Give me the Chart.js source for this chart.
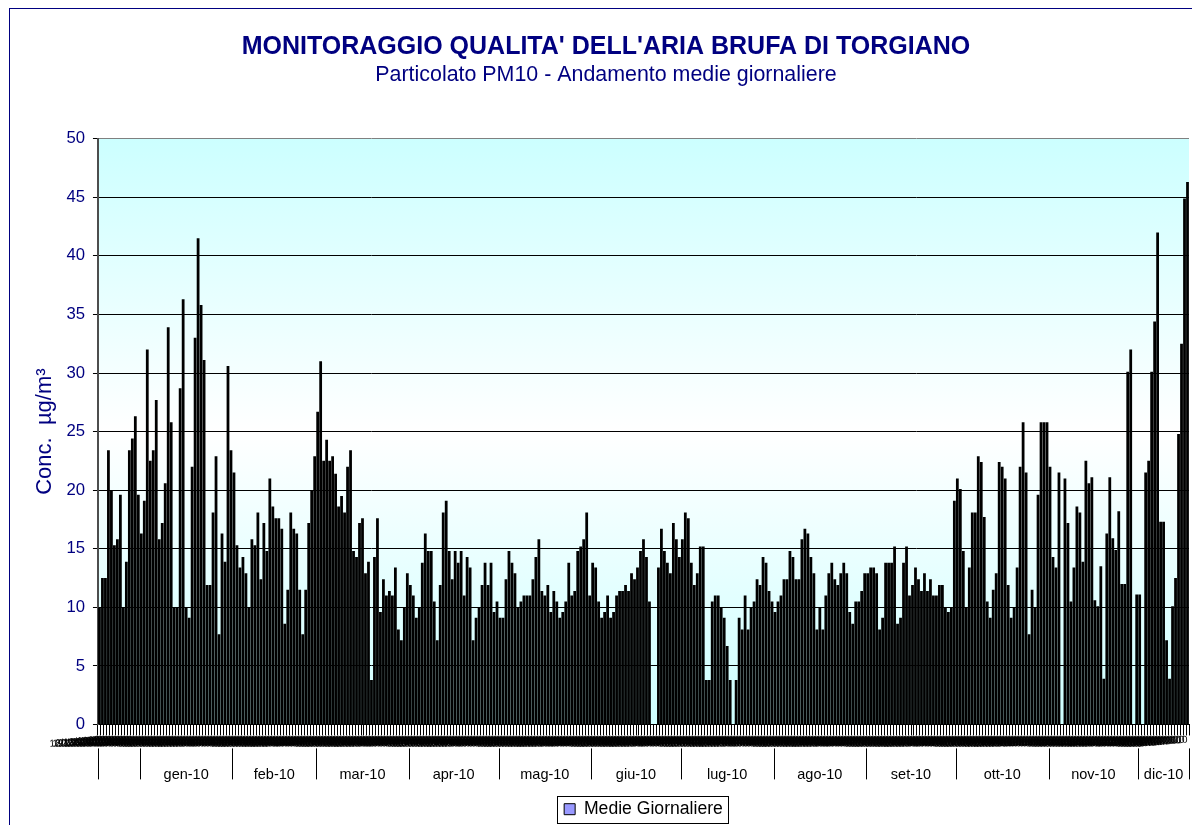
<!DOCTYPE html>
<html>
<head>
<meta charset="utf-8">
<title>PM10 Brufa di Torgiano</title>
<script src="https://cdn.jsdelivr.net/npm/chart.js@4.4.1/dist/chart.umd.min.js"></script>
<style>
    html, body { margin: 0; padding: 0; background: #ffffff; }
</style>
</head>
<body>
<canvas id="pm10_chart" width="1192" height="825"></canvas>
<script>
const chart_title = "MONITORAGGIO QUALITA' DELL'ARIA BRUFA DI TORGIANO";
const chart_subtitle = "Particolato PM10 - Andamento medie giornaliere";
const series_name = "Medie Giornaliere";
const y_axis_title = "Conc.  µg/m³";

// primo giorno della serie: 18/12/2009
const first_day = [2009, 11, 18];

// etichette del secondo livello dell'asse x (mesi) e giorni per gruppo
const month_labels = ["", "gen-10", "feb-10", "mar-10", "apr-10", "mag-10", "giu-10", "lug-10", "ago-10", "set-10", "ott-10", "nov-10", "dic-10"];
const month_days = [14, 31, 28, 31, 30, 31, 30, 31, 31, 30, 31, 30, 17];

const y_ticks = [0, 5, 10, 15, 20, 25, 30, 35, 40, 45, 50];

// medie giornaliere PM10 (ug/m3), null = dato mancante
const values_dic09 = [10.0, 12.5, 12.5, 23.4, 20.0, 15.3, 15.8, 19.6, 10.0, 13.9, 23.4, 24.4, 26.3, 19.6];
const values_gen10 = [16.3, 19.1, 32.0, 22.5, 23.4, 27.7, 15.8, 17.2, 20.6, 33.9, 25.8, 10.0, 10.0, 28.7, 36.3, 10.0, 9.1, 22.0, 33.0, 41.5, 35.8, 31.1, 11.9, 11.9, 18.1, 22.9, 7.7, 16.3, 13.9, 30.6, 23.4];
const values_feb10 = [21.5, 15.3, 13.4, 14.3, 12.9, 10.0, 15.8, 15.3, 18.1, 12.4, 17.2, 14.8, 21.0, 18.6, 17.6, 17.6, 16.7, 8.6, 11.5, 18.1, 16.7, 16.3, 11.5, 7.7, 11.5, 17.2, 20.0, 22.9];
const values_mar10 = [26.7, 31.0, 22.5, 24.3, 22.5, 22.9, 21.4, 18.6, 19.5, 18.1, 22.0, 23.4, 14.8, 14.3, 17.2, 17.6, 12.9, 13.9, 3.8, 14.3, 17.6, 9.6, 12.4, 11.0, 11.4, 11.0, 13.4, 8.1, 7.2, 10.0, 12.9];
const values_apr10 = [11.9, 11.0, 9.1, 10.0, 13.8, 16.3, 14.8, 14.8, 10.5, 7.2, 11.9, 18.1, 19.1, 14.8, 12.4, 14.8, 13.8, 14.8, 11.0, 14.3, 13.4, 7.2, 9.1, 10.0, 11.9, 13.8, 11.9, 13.8, 9.6, 10.5];
const values_mag10 = [9.1, 9.1, 12.4, 14.8, 13.8, 12.9, 10.0, 10.5, 11.0, 11.0, 11.0, 12.4, 14.3, 15.8, 11.4, 11.0, 11.9, 9.6, 11.4, 10.5, 9.1, 9.6, 10.5, 13.8, 11.0, 11.4, 14.8, 15.2, 15.8, 18.1, 11.0];
const values_giu10 = [13.8, 13.4, 10.5, 9.1, 9.6, 11.0, 9.1, 9.6, 11.0, 11.4, 11.4, 11.9, 11.4, 12.9, 12.4, 13.4, 14.8, 15.8, 14.3, 10.5, null, null, 13.4, 16.7, 14.8, 13.8, 12.9, 17.2, 15.8, 14.3];
const values_lug10 = [15.8, 18.1, 17.6, 13.8, 11.9, 12.9, 15.2, 15.2, 3.8, 3.8, 10.5, 11.0, 11.0, 10.0, 9.1, 6.7, 3.8, null, 3.8, 9.1, 8.1, 11.0, 8.1, 10.0, 10.5, 12.4, 11.9, 14.3, 13.8, 11.4, 10.5];
const values_ago10 = [9.6, 10.5, 11.0, 12.4, 12.4, 14.8, 14.3, 12.4, 12.4, 15.8, 16.7, 16.3, 14.3, 12.9, 8.1, 10.0, 8.1, 11.0, 12.9, 13.8, 12.4, 11.9, 12.9, 13.8, 12.9, 9.6, 8.6, 10.5, 10.5, 11.4, 12.9];
const values_set10 = [12.9, 13.4, 13.4, 12.9, 8.1, 9.1, 13.8, 13.8, 13.8, 15.2, 8.6, 9.1, 13.8, 15.2, 11.0, 11.9, 13.4, 12.4, 11.4, 12.9, 11.4, 12.4, 11.0, 11.0, 11.9, 11.9, 10.0, 9.6, 10.0, 19.1];
const values_ott10 = [21.0, 20.1, 14.8, 10.0, 13.4, 18.1, 18.1, 22.9, 22.4, 17.7, 10.5, 9.1, 11.5, 12.9, 22.4, 22.0, 21.0, 11.9, 9.1, 10.0, 13.4, 22.0, 25.8, 21.5, 7.7, 11.5, 10.0, 19.6, 25.8, 25.8, 25.8];
const values_nov10 = [22.0, 14.3, 13.4, 21.5, null, 21.0, 17.2, 10.5, 13.4, 18.6, 18.1, 13.9, 22.5, 20.6, 21.1, 10.6, 10.1, 13.5, 3.9, 16.3, 21.1, 15.9, 14.9, 18.2, 12.0, 12.0, 30.1, 32.0, null, 11.1];
const values_dic10 = [11.1, null, 21.5, 22.5, 30.1, 34.4, 42.0, 17.3, 17.3, 7.2, 3.9, 10.1, 12.5, 24.8, 32.5, 44.9, 46.3];

const daily_values = [].concat(values_dic09, values_gen10, values_feb10, values_mar10, values_apr10, values_mag10,
    values_giu10, values_lug10, values_ago10, values_set10, values_ott10, values_nov10, values_dic10);

const font_family = 'Arial, "Liberation Sans", sans-serif';

function two_digits(n)
{
    return (n < 10 ? '0' : '') + n;
}

// etichette giornaliere dd/mm/yyyy
const day_labels = daily_values.map(function (v, i)
{
    const d = new Date(first_day[0], first_day[1], first_day[2] + i);
    return two_digits(d.getDate()) + '/' + two_digits(d.getMonth() + 1) + '/' + d.getFullYear();
});

// livello mesi: bordi dei gruppi e centri con il nome
const month_bounds = [-0.5];
const month_centres = {};
month_days.forEach(function (n, k)
{
    const start = month_bounds[month_bounds.length - 1];
    month_bounds.push(start + n);
    month_centres[start + n / 2] = month_labels[k];
});

const month_tick_values = Object.keys(month_centres).map(Number);

function tick_value(ctx)
{
    return ctx && ctx.tick ? ctx.tick.value : undefined;
}

const plot_background =
{
    id: 'plot_background',
    beforeDraw(chart)
    {
        const ctx = chart.ctx;
        const area = chart.chartArea;

        // cornice esterna
        ctx.save();
        ctx.strokeStyle = '#000080';
        ctx.lineWidth = 1;
        ctx.strokeRect(9.5, 8.5, 1300, 1000);

        const grad = ctx.createLinearGradient(0, area.top, 0, area.bottom);
        grad.addColorStop(0, '#ccffff');
        grad.addColorStop(0.5, '#ffffff');
        grad.addColorStop(1, '#ccffff');
        ctx.fillStyle = grad;
        ctx.fillRect(area.left, area.top, area.right - area.left, area.bottom - area.top);
        ctx.restore();
    }
};

// separatori verticali tra i gruppi di mesi, sotto l'asse giornaliero
const month_separators =
{
    id: 'month_separators',
    afterDraw(chart)
    {
        const scale = chart.scales.x_month;
        const y0 = chart.scales.x.bottom;
        const y1 = y0 + 31;
        const ctx = chart.ctx;
        ctx.save();
        ctx.strokeStyle = '#000000';
        ctx.lineWidth = 1;
        ctx.beginPath();
        month_bounds.forEach(function (b)
        {
            const px = Math.round(scale.getPixelForValue(b)) + 0.5;
            ctx.moveTo(px, y0);
            ctx.lineTo(px, y1);
        });
        ctx.stroke();
        ctx.restore();
    }
};

const legend_frame =
{
    id: 'legend_frame',
    afterDraw(chart)
    {
        const legend = chart.legend;
        if (!legend || !legend.legendHitBoxes || !legend.legendHitBoxes.length)
        {
            return;
        }
        const hit = legend.legendHitBoxes[0];
        const mid = hit.top + hit.height / 2;
        const ctx = chart.ctx;
        ctx.save();
        ctx.strokeStyle = '#000000';
        ctx.lineWidth = 1;
        ctx.strokeRect(Math.round(hit.left - 7) + 0.5, Math.round(mid - 13.5) + 0.5, Math.round(hit.width + 12), 27);
        ctx.restore();
    }
};

const data =
{
    labels: day_labels,
    datasets:
        [{
            label: series_name,
            data: daily_values,
            backgroundColor: '#000000',
            borderWidth: 0,
            barPercentage: 0.93,
            categoryPercentage: 1.0,
            xAxisID: 'x',
            yAxisID: 'y'
        }]
};

const config =
{
    type: 'bar',
    data,
    plugins: [plot_background, month_separators, legend_frame],
    options:
    {
        responsive: false,
        animation: false,
        devicePixelRatio: 1,
        layout:
        {
            padding: { top: 22, left: 23, right: 3, bottom: -3 }
        },
        scales:
        {
            x:
            {
                type: 'category',
                offset: true,
                weight: 0,
                grid:
                {
                    offset: true,
                    drawOnChartArea: false,
                    drawTicks: true,
                    tickLength: 11,
                    color: '#000000',
                    tickColor: '#000000'
                },
                border: { color: '#000000', width: 1 },
                ticks:
                {
                    autoSkip: false,
                    minRotation: 5,
                    maxRotation: 5,
                    padding: -1.7,
                    color: '#000000',
                    font: { family: font_family, size: 10 }
                }
            },
            x_month:
            {
                type: 'linear',
                position: 'bottom',
                weight: 1,
                offset: false,
                min: -0.5,
                max: daily_values.length - 0.5,
                afterBuildTicks: function (axis)
                {
                    axis.ticks = month_tick_values.map(function (v) { return { value: v }; });
                },
                grid:
                {
                    display: false,
                    offset: false,
                    drawOnChartArea: false,
                    drawTicks: true,
                    tickLength: 2
                },
                border: { display: false },
                ticks:
                {
                    autoSkip: false,
                    maxRotation: 0,
                    padding: 16.3,
                    color: '#000000',
                    font: { family: font_family, size: 14.5 },
                    callback: function (value)
                    {
                        return month_centres[value] !== undefined ? month_centres[value] : '';
                    }
                }
            },
            y:
            {
                min: 0,
                max: 50,
                afterBuildTicks: function (axis)
                {
                    axis.ticks = y_ticks.map(function (v) { return { value: v }; });
                },
                grid:
                {
                    color: function (ctx)
                    {
                        return tick_value(ctx) === 50 ? '#808080' : '#000000';
                    },
                    tickColor: '#000000',
                    tickLength: 5
                },
                border: { color: '#4d4d4d', width: 2 },
                ticks:
                {
                    padding: 8,
                    color: '#000080',
                    font: { family: font_family, size: 16.7 }
                },
                title:
                {
                    display: true,
                    text: y_axis_title,
                    color: '#000080',
                    font: { family: font_family, size: 22 },
                    padding: { top: 9, bottom: 0 }
                }
            }
        },
        plugins:
        {
            title:
            {
                display: true,
                text: chart_title,
                color: '#000080',
                font: { family: font_family, size: 25, weight: 'bold' },
                padding: { top: 10, bottom: 0 }
            },
            subtitle:
            {
                display: true,
                text: chart_subtitle,
                color: '#000080',
                font: { family: font_family, size: 21.4, weight: 'normal' },
                padding: { top: 0, bottom: 51 }
            },
            legend:
            {
                position: 'bottom',
                fullSize: false,
                labels:
                {
                    color: '#000000',
                    boxWidth: 11,
                    boxHeight: 11,
                    padding: 0,
                    font: { family: font_family, size: 17.6 },
                    generateLabels: function (chart)
                    {
                        const items = Chart.defaults.plugins.legend.labels.generateLabels(chart);
                        items.forEach(function (item)
                        {
                            item.fillStyle = '#9999ff';
                            item.strokeStyle = '#000000';
                            item.lineWidth = 1;
                        });
                        return items;
                    }
                }
            },
            tooltip: { enabled: false }
        }
    }
};

const pm10_chart = new Chart(document.getElementById('pm10_chart'), config);
</script>
</body>
</html>
